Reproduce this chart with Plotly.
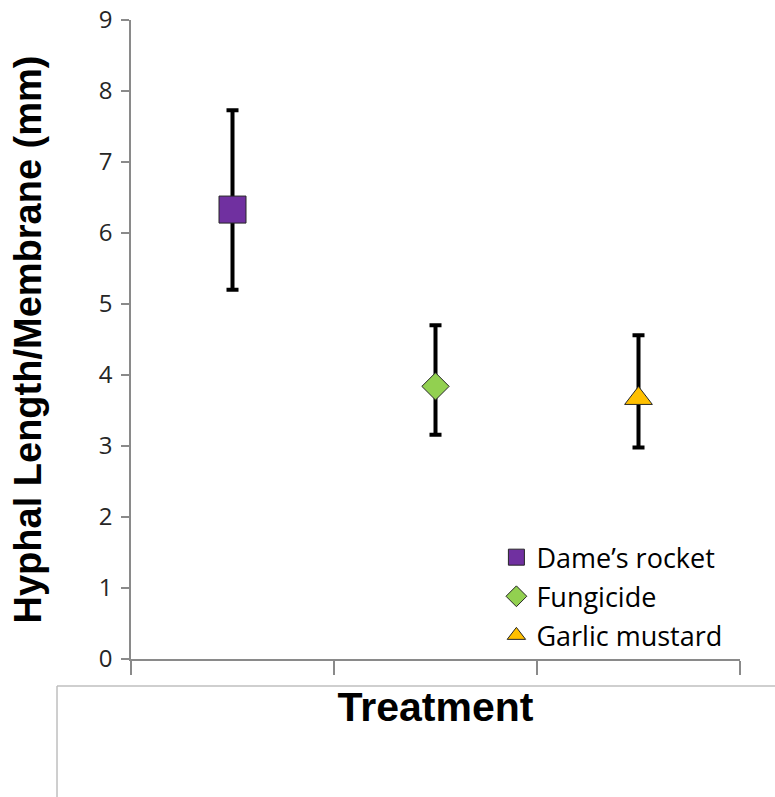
import plotly.graph_objects as go

# ---- data ----
treatments = ["Dame\u2019s rocket", "Fungicide", "Garlic mustard"]
positions = [1, 2, 3]
means = [6.33, 3.84, 3.67]
err_plus = [1.40, 0.86, 0.89]
err_minus = [1.13, 0.68, 0.69]
y_ticks = list(range(0, 10))
x_boundaries = [0.5, 1.5, 2.5, 3.5]

# ---- styles ----
symbols = ["square", "diamond", "triangle-up"]
colors = ["#7030A0", "#92D050", "#FFC000"]
sizes = [27, 21, 24]
axis_grey = "#8a8a8a"

fig = go.Figure()
for i, name in enumerate(treatments):
    fig.add_trace(go.Scatter(
        x=[positions[i]], y=[means[i]], name=name, mode="markers",
        legendgroup=name,
        marker=dict(symbol=symbols[i], color=colors[i], size=sizes[i],
                    line=dict(color="#262626", width=1)),
        error_y=dict(type="data", symmetric=False,
                     array=[err_plus[i]], arrayminus=[err_minus[i]],
                     color="black", thickness=4, width=6),
    ))

fig.update_layout(
    width=775, height=797,
    margin=dict(l=131, r=35, t=20, b=138),
    paper_bgcolor="white", plot_bgcolor="white",
    showlegend=True,
    legend=dict(x=0.60, y=0.197, xanchor="left", yanchor="top",
                bgcolor="rgba(0,0,0,0)", tracegroupgap=1,
                font=dict(family="Open Sans", size=27, color="black")),
    xaxis=dict(range=[0.5, 3.5], tickvals=x_boundaries,
               ticktext=["" for _ in x_boundaries], automargin=False,
               ticks="outside", ticklen=14, tickwidth=1.5, tickcolor=axis_grey,
               showline=True, linecolor=axis_grey, linewidth=1.5,
               showgrid=False, zeroline=False,
               title=dict(text="Treatment", standoff=16,
                          font=dict(family="Liberation Sans, Arial", size=41,
                                    color="black", weight="bold"))),
    yaxis=dict(range=[0, 9], tickvals=y_ticks, automargin=False,
               ticks="outside", ticklen=8, tickwidth=1.5, tickcolor=axis_grey,
               showline=True, linecolor=axis_grey, linewidth=1.5,
               showgrid=False, zeroline=False, ticklabelstandoff=4,
               tickfont=dict(family="Open Sans", size=24, color="#262626"),
               title=dict(text="Hyphal Length/Membrane (mm)", standoff=45,
                          font=dict(family="Liberation Sans, Arial", size=38,
                                    color="black", weight="bold"))),
    shapes=[
        dict(type="line", xref="paper", yref="paper", x0=-0.1215, x1=1.06,
             y0=-0.0423, y1=-0.0423, line=dict(color="#bfbfbf", width=1.5)),
        dict(type="line", xref="paper", yref="paper", x0=-0.1215, x1=-0.1215,
             y0=-0.0423, y1=-0.25, line=dict(color="#bfbfbf", width=1.5)),
    ],
)

fig.write_html("out.html")
